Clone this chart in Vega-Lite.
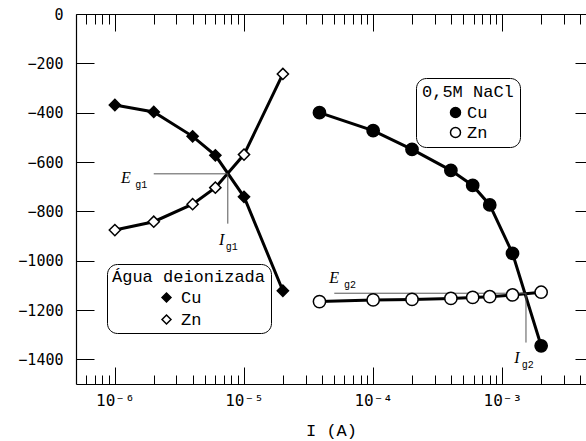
{
  "$schema": "https://vega.github.io/schema/vega-lite/v6.json",
  "width": 510,
  "height": 370,
  "autosize": "none",
  "padding": {"left": 76, "top": 14, "right": 0, "bottom": 57},
  "background": "white",
  "datasets": {
    "curves": [
      {"group": "agua", "metal": "Cu", "I": 1e-6, "E": -369},
      {"group": "agua", "metal": "Cu", "I": 2e-6, "E": -397},
      {"group": "agua", "metal": "Cu", "I": 4e-6, "E": -496},
      {"group": "agua", "metal": "Cu", "I": 6e-6, "E": -573},
      {"group": "agua", "metal": "Cu", "I": 1e-5, "E": -741},
      {"group": "agua", "metal": "Cu", "I": 2e-5, "E": -1122},
      {"group": "agua", "metal": "Zn", "I": 1e-6, "E": -876},
      {"group": "agua", "metal": "Zn", "I": 2e-6, "E": -842},
      {"group": "agua", "metal": "Zn", "I": 4e-6, "E": -771},
      {"group": "agua", "metal": "Zn", "I": 6e-6, "E": -704},
      {"group": "agua", "metal": "Zn", "I": 1e-5, "E": -570},
      {"group": "agua", "metal": "Zn", "I": 2e-5, "E": -243},
      {"group": "nacl", "metal": "Cu", "I": 3.84e-5, "E": -400},
      {"group": "nacl", "metal": "Cu", "I": 1e-4, "E": -473},
      {"group": "nacl", "metal": "Cu", "I": 2e-4, "E": -549},
      {"group": "nacl", "metal": "Cu", "I": 4e-4, "E": -634},
      {"group": "nacl", "metal": "Cu", "I": 5.9e-4, "E": -695},
      {"group": "nacl", "metal": "Cu", "I": 8e-4, "E": -774},
      {"group": "nacl", "metal": "Cu", "I": 1.2e-3, "E": -970},
      {"group": "nacl", "metal": "Cu", "I": 2e-3, "E": -1345},
      {"group": "nacl", "metal": "Zn", "I": 3.84e-5, "E": -1166},
      {"group": "nacl", "metal": "Zn", "I": 1e-4, "E": -1159},
      {"group": "nacl", "metal": "Zn", "I": 2e-4, "E": -1157},
      {"group": "nacl", "metal": "Zn", "I": 4e-4, "E": -1153},
      {"group": "nacl", "metal": "Zn", "I": 5.9e-4, "E": -1149},
      {"group": "nacl", "metal": "Zn", "I": 8e-4, "E": -1146},
      {"group": "nacl", "metal": "Zn", "I": 1.2e-3, "E": -1139},
      {"group": "nacl", "metal": "Zn", "I": 2e-3, "E": -1128}
    ],
    "guides": [
      {"x": 2e-6, "x2": 7.49e-6, "y": -648, "y2": -648},
      {"x": 7.49e-6, "x2": 7.49e-6, "y": -648, "y2": -850},
      {"x": 5e-5, "x2": 1.526e-3, "y": -1132, "y2": -1132},
      {"x": 1.526e-3, "x2": 1.526e-3, "y": -1132, "y2": -1332}
    ],
    "labels": [
      {"t": "E", "x": 1.217e-6, "y": -664, "k": "main"},
      {"t": "g1", "x": 1.6e-6, "y": -693, "k": "sub"},
      {"t": "I", "x": 6.7e-6, "y": -916, "k": "main"},
      {"t": "g1", "x": 8.05e-6, "y": -945, "k": "sub"},
      {"t": "E", "x": 4.98e-5, "y": -1069, "k": "main"},
      {"t": "g2", "x": 6.62e-5, "y": -1099, "k": "sub"},
      {"t": "I", "x": 1.3e-3, "y": -1395, "k": "main"},
      {"t": "g2", "x": 1.574e-3, "y": -1423, "k": "sub"}
    ]
  },
  "layer": [
    {
      "data": {"name": "curves"},
      "mark": {"type": "line", "color": "black", "strokeWidth": 3},
      "encoding": {
        "x": {"field": "I", "type": "quantitative",
          "scale": {"type": "log", "domain": [5e-7, 4.45e-3], "nice": false},
          "axis": {"orient": "bottom", "values": [1e-6, 1e-5, 1e-4, 1e-3], "tickSize": -17, "tickWidth": 1,
            "labelPadding": 25, "labelFlush": false, "labelOverlap": false, "labelFontSize": 16,
            "labelExpr": "datum.value < 5e-6 ? '10⁻⁶' : datum.value < 5e-5 ? '10⁻⁵' : datum.value < 5e-4 ? '10⁻⁴' : '10⁻³'",
            "domain": true, "domainWidth": 1.2, "title": "I (A)", "titleY": 46, "titleBaseline": "middle"}},
        "y": {"field": "E", "type": "quantitative",
          "scale": {"domain": [-1500, 0], "nice": false, "zero": false},
          "axis": {"orient": "left", "values": [-1400, -1200, -1000, -800, -600, -400, -200, 0], "tickSize": -18, "tickWidth": 1,
            "format": "d", "labelPadding": 31, "labelFontSize": 15, "labelOverlap": false, "domain": true, "domainWidth": 1.2, "title": null}},
        "detail": [{"field": "group"}, {"field": "metal"}]
      }
    },
    {
      "data": {"name": "guides"},
      "mark": {"type": "rule", "color": "#555555", "strokeWidth": 1},
      "encoding": {
        "x": {"field": "x", "type": "quantitative",
          "scale": {"type": "log", "domain": [5e-7, 4.45e-3], "nice": false},
          "axis": {"orient": "top", "values": [6e-7, 7e-7, 8e-7, 9e-7, 2e-6, 3e-6, 4e-6, 5e-6, 6e-6, 7e-6, 8e-6, 9e-6, 2e-5, 3e-5, 4e-5, 5e-5, 6e-5, 7e-5, 8e-5, 9e-5, 2e-4, 3e-4, 4e-4, 5e-4, 6e-4, 7e-4, 8e-4, 9e-4, 2e-3, 3e-3, 4e-3],
            "tickSize": -10, "tickWidth": 1, "labels": false, "domain": false, "title": null}},
        "x2": {"field": "x2"},
        "y": {"field": "y", "type": "quantitative", "scale": {"domain": [-1500, 0], "nice": false, "zero": false}, "axis": null},
        "y2": {"field": "y2"}
      }
    },
    {
      "data": {"name": "curves"},
      "transform": [{"filter": "datum.group === 'agua'"}],
      "mark": {"type": "point", "filled": true, "stroke": "black", "strokeWidth": 1.5, "opacity": 1, "size": 125},
      "encoding": {
        "x": {"field": "I", "type": "quantitative",
          "scale": {"type": "log", "domain": [5e-7, 4.45e-3], "nice": false},
          "axis": {"orient": "top", "values": [1e-6, 1e-5, 1e-4, 1e-3], "tickSize": -17, "tickWidth": 1, "labels": false, "domain": true, "domainWidth": 1.2, "title": null}},
        "y": {"field": "E", "type": "quantitative",
          "scale": {"domain": [-1500, 0], "nice": false, "zero": false},
          "axis": {"orient": "right", "values": [-1400, -1200, -1000, -800, -600, -400, -200, 0], "tickSize": -11, "tickWidth": 1, "labels": false, "domain": false, "title": null}},
        "shape": {"field": "metal", "type": "nominal", "scale": {"domain": ["Cu", "Zn"], "range": ["diamond", "diamond"]},
          "legend": {"title": "Água deionizada", "orient": "none", "legendX": 31, "legendY": 250, "padding": 5, "cornerRadius": 10,
            "strokeColor": "black", "titlePadding": 3, "rowPadding": 4, "symbolSize": 80, "symbolOffset": 46, "labelOffset": 6,
            "titleFontWeight": "normal",
            "encode": {"symbols": {"update": {"stroke": {"value": "black"}, "strokeWidth": {"value": 1.5}}}}}},
        "fill": {"field": "metal", "type": "nominal", "scale": {"domain": ["Cu", "Zn"], "range": ["black", "white"]},
          "legend": {"title": "Água deionizada", "orient": "none", "legendX": 31, "legendY": 250, "padding": 5, "cornerRadius": 10,
            "strokeColor": "black", "titlePadding": 3, "rowPadding": 4, "symbolSize": 80, "symbolOffset": 46, "labelOffset": 6,
            "titleFontWeight": "normal",
            "encode": {"symbols": {"update": {"stroke": {"value": "black"}, "strokeWidth": {"value": 1.5}}}}}}
      }
    },
    {
      "data": {"name": "curves"},
      "transform": [{"filter": "datum.group === 'nacl'"}],
      "mark": {"type": "point", "filled": true, "stroke": "black", "strokeWidth": 1.5, "opacity": 1, "size": 150},
      "encoding": {
        "x": {"field": "I", "type": "quantitative",
          "scale": {"type": "log", "domain": [5e-7, 4.45e-3], "nice": false},
          "axis": {"orient": "bottom", "values": [6e-7, 7e-7, 8e-7, 9e-7, 2e-6, 3e-6, 4e-6, 5e-6, 6e-6, 7e-6, 8e-6, 9e-6, 2e-5, 3e-5, 4e-5, 5e-5, 6e-5, 7e-5, 8e-5, 9e-5, 2e-4, 3e-4, 4e-4, 5e-4, 6e-4, 7e-4, 8e-4, 9e-4, 2e-3, 3e-3, 4e-3],
            "tickSize": -9, "tickWidth": 1, "labels": false, "domain": false, "title": null}},
        "y": {"field": "E", "type": "quantitative", "scale": {"domain": [-1500, 0], "nice": false, "zero": false}, "axis": null},
        "shape": {"field": "metal", "type": "nominal", "scale": {"domain": ["Cu", "Zn"], "range": ["circle", "circle"]},
          "legend": {"title": "0,5M NaCl", "orient": "none", "legendX": 340, "legendY": 64, "padding": 6, "cornerRadius": 10,
            "strokeColor": "black", "titlePadding": 3, "rowPadding": 2, "symbolSize": 100, "symbolOffset": 25, "labelOffset": 3,
            "titleFontWeight": "normal",
            "encode": {"symbols": {"update": {"stroke": {"value": "black"}, "strokeWidth": {"value": 1.5}}}}}},
        "fill": {"field": "metal", "type": "nominal", "scale": {"domain": ["Cu", "Zn"], "range": ["black", "white"]},
          "legend": {"title": "0,5M NaCl", "orient": "none", "legendX": 340, "legendY": 64, "padding": 6, "cornerRadius": 10,
            "strokeColor": "black", "titlePadding": 3, "rowPadding": 2, "symbolSize": 100, "symbolOffset": 25, "labelOffset": 3,
            "titleFontWeight": "normal",
            "encode": {"symbols": {"update": {"stroke": {"value": "black"}, "strokeWidth": {"value": 1.5}}}}}}
      }
    },
    {
      "data": {"name": "labels"},
      "transform": [{"filter": "datum.k === 'main'"}],
      "mark": {"type": "text", "font": "Liberation Serif", "fontStyle": "italic", "fontSize": 16, "color": "black", "align": "center", "baseline": "middle"},
      "encoding": {
        "x": {"field": "x", "type": "quantitative", "scale": {"type": "log", "domain": [5e-7, 4.45e-3], "nice": false}, "axis": null},
        "y": {"field": "y", "type": "quantitative", "scale": {"domain": [-1500, 0], "nice": false, "zero": false}, "axis": null},
        "text": {"field": "t"}
      }
    },
    {
      "data": {"name": "labels"},
      "transform": [{"filter": "datum.k === 'sub'"}],
      "mark": {"type": "text", "font": "Liberation Mono", "fontSize": 10, "color": "black", "align": "center", "baseline": "middle"},
      "encoding": {
        "x": {"field": "x", "type": "quantitative", "scale": {"type": "log", "domain": [5e-7, 4.45e-3], "nice": false}, "axis": null},
        "y": {"field": "y", "type": "quantitative", "scale": {"domain": [-1500, 0], "nice": false, "zero": false}, "axis": null},
        "text": {"field": "t"}
      }
    }
  ],
  "resolve": {
    "axis": {"x": "independent", "y": "independent"},
    "scale": {"shape": "independent", "fill": "independent"}
  },
  "config": {
    "view": {"stroke": null},
    "axis": {"domainColor": "black", "tickColor": "black", "labelColor": "black", "titleColor": "black", "grid": false,
      "labelFont": "DejaVu Sans Mono", "titleFont": "Liberation Mono", "titleFontWeight": "normal", "titleFontSize": 17},
    "legend": {"titleFont": "Liberation Mono", "titleFontSize": 17, "titleFontWeight": "normal", "titleColor": "black",
      "labelFont": "Liberation Mono", "labelFontSize": 17, "labelColor": "black", "fillColor": "white"}
  }
}
